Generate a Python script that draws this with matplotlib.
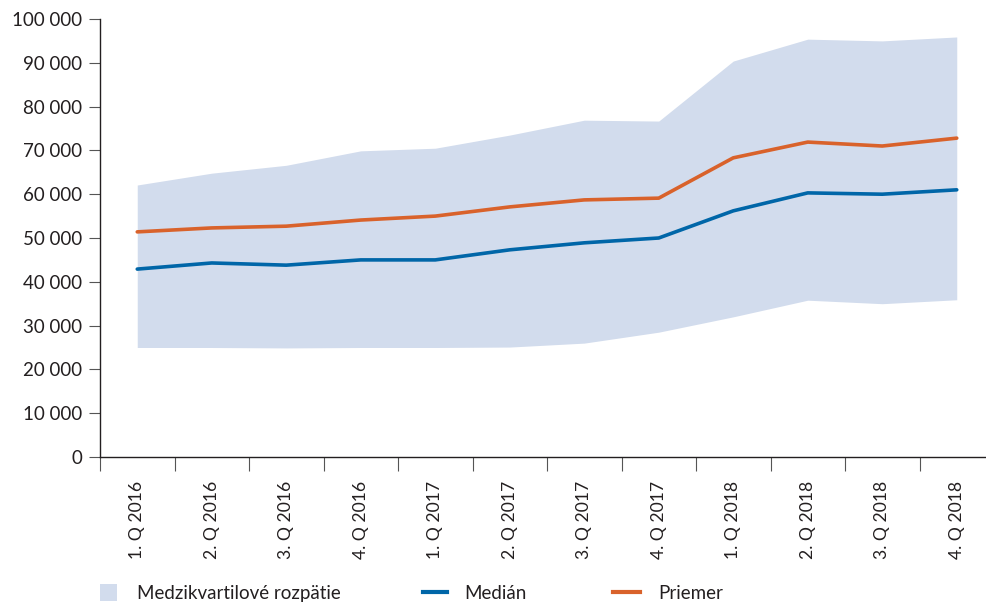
import numpy as np
import matplotlib.pyplot as plt
from matplotlib.patches import Patch
from matplotlib.lines import Line2D

plt.rcParams['font.family'] = ['Lato', 'DejaVu Sans']

quarters = ["1. Q 2016", "2. Q 2016", "3. Q 2016", "4. Q 2016",
            "1. Q 2017", "2. Q 2017", "3. Q 2017", "4. Q 2017",
            "1. Q 2018", "2. Q 2018", "3. Q 2018", "4. Q 2018"]
q_low = [25000, 25000, 24900, 25000, 25000, 25100,
         26000, 28500, 32000, 35800, 35000, 35900]
q_high = [62100, 64800, 66600, 69900, 70500, 73500,
          76900, 76700, 90400, 95400, 95000, 95900]
median = [42900, 44300, 43800, 45000, 45000, 47300,
          48900, 50000, 56200, 60300, 60000, 61000]
mean = [51400, 52300, 52700, 54100, 55000, 57100,
        58700, 59100, 68300, 71900, 71000, 72800]

C_FILL = '#d2dced'
C_MED = '#0066a8'
C_MEAN = '#d9622b'
C_TXT = '#231f20'
FS = 13.5

W, H = 986, 604
fig = plt.figure(figsize=(W / 100, H / 100), dpi=100)
# axes runs past the right edge, like the reference
ax = fig.add_axes([100 / W, 1 - 457 / H, 894 / W, 438 / H])

x = np.arange(len(quarters))
ax.fill_between(x, q_low, q_high, color=C_FILL, linewidth=0)
ax.plot(x, median, color=C_MED, linewidth=2.6, solid_capstyle='round')
ax.plot(x, mean, color=C_MEAN, linewidth=2.6, solid_capstyle='round')

ax.set_xlim(-0.5, len(quarters) - 0.5)
ax.set_ylim(0, 100000)
ax.set_yticks(np.arange(0, 100001, 10000))
ax.set_yticklabels([f"{v:,}".replace(",", " ") for v in range(0, 100001, 10000)],
                   fontsize=FS, color=C_TXT)

# category borders as major ticks, labels on minor ticks
ax.set_xticks(np.arange(-0.5, len(quarters), 1.0))
ax.set_xticklabels([])
ax.set_xticks(x, minor=True)
ax.set_xticklabels(quarters, minor=True, rotation=90, fontsize=12.6,
                   color=C_TXT, va='top', ha='center')
ax.tick_params(axis='x', which='major', length=10, color='#555555', direction='out')
ax.tick_params(axis='x', which='minor', length=0, pad=17)
ax.tick_params(axis='y', length=8, color='#555555', pad=5)

for s in ['top', 'right']:
    ax.spines[s].set_visible(False)
for s in ['left', 'bottom']:
    ax.spines[s].set_color(C_TXT)
    ax.spines[s].set_linewidth(1.0)

# legend: three pieces placed like the reference
items = [(Patch(facecolor=C_FILL, edgecolor='none'), "Medzikvartilové rozpätie", 100, 0.9, 1.05),
         (Line2D([], [], color=C_MED, linewidth=3), "Medián", 423, 1.3, 0.9),
         (Line2D([], [], color=C_MEAN, linewidth=3), "Priemer", 613, 1.45, 0.95)]
for h, lab, px, hl, tp in items:
    leg = fig.legend([h], [lab], loc='center left',
                     bbox_to_anchor=(px / W, 1 - 593 / H),
                     frameon=False, fontsize=FS, handlelength=hl, handleheight=1.0,
                     handletextpad=tp, borderpad=0, borderaxespad=0,
                     labelcolor=C_TXT)

fig.savefig("out.png", dpi=100)
